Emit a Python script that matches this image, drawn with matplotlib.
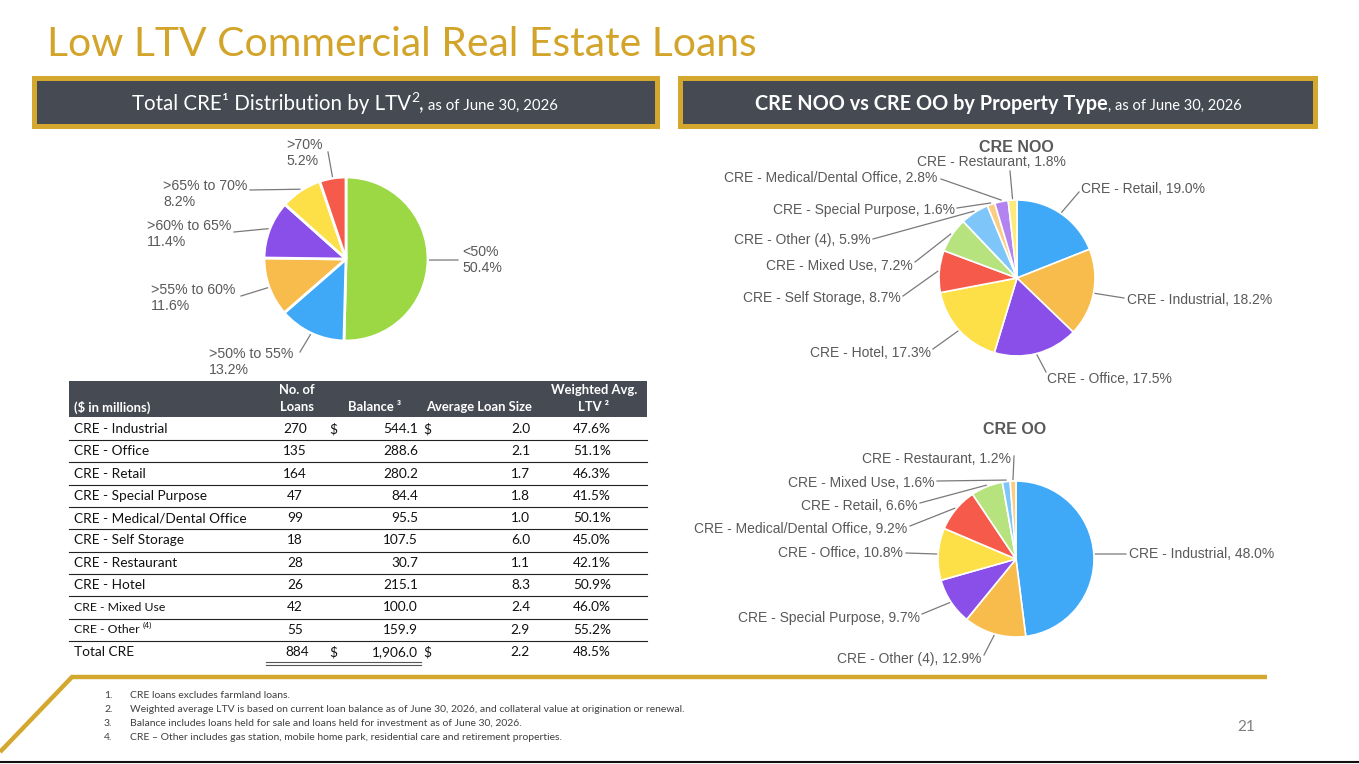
import matplotlib
matplotlib.use("Agg")
import matplotlib.pyplot as plt
from matplotlib.patches import Rectangle
import numpy as np

# ---------------- data ----------------
ltv_labels = ["<50%", ">50% to 55%", ">55% to 60%", ">60% to 65%", ">65% to 70%", ">70%"]
ltv_values = [50.4, 13.2, 11.6, 11.4, 8.2, 5.2]

noo_labels = ["CRE - Retail", "CRE - Industrial", "CRE - Office", "CRE - Hotel",
              "CRE - Self Storage", "CRE - Mixed Use", "CRE - Other (4)",
              "CRE - Special Purpose", "CRE - Medical/Dental Office", "CRE - Restaurant"]
noo_values = [19.0, 18.2, 17.5, 17.3, 8.7, 7.2, 5.9, 1.6, 2.8, 1.8]

oo_labels = ["CRE - Industrial", "CRE - Other (4)", "CRE - Special Purpose", "CRE - Office",
             "CRE - Medical/Dental Office", "CRE - Retail", "CRE - Mixed Use", "CRE - Restaurant"]
oo_values = [48.0, 12.9, 9.7, 10.8, 9.2, 6.6, 1.6, 1.2]

table_categories = ["CRE - Industrial", "CRE - Office", "CRE - Retail", "CRE - Special Purpose",
                    "CRE - Medical/Dental Office", "CRE - Self Storage", "CRE - Restaurant",
                    "CRE - Hotel", "CRE - Mixed Use", "CRE - Other"]
num_loans = [270, 135, 164, 47, 99, 18, 28, 26, 42, 55]
balances = [544.1, 288.6, 280.2, 84.4, 95.5, 107.5, 30.7, 215.1, 100.0, 159.9]
avg_loan_size = [2.0, 2.1, 1.7, 1.8, 1.0, 6.0, 1.1, 8.3, 2.4, 2.9]
wavg_ltv = [47.6, 51.1, 46.3, 41.5, 50.1, 45.0, 42.1, 50.9, 46.0, 55.2]
total_loans = 884
total_balance = 1906.0
total_avg_size = 2.2
total_ltv = 48.5

footnotes = [
    "CRE loans excludes farmland loans.",
    "Weighted average LTV is based on current loan balance as of June 30, 2026, and collateral value at origination or renewal.",
    "Balance includes loans held for sale and loans held for investment as of June 30, 2026.",
    "CRE \u2013 Other includes gas station, mobile home park, residential care and retirement properties.",
]

# ---------------- style ----------------
GOLD = "#D4A82F"
DARK = "#464A53"
LABEL = "#595959"
LEADER = "#7a7a7a"
SANS = "Liberation Sans"
BODY = "Lato"

ltv_colors = ["#9BD843", "#40A9F7", "#F8BC4C", "#8A4FE8", "#FDE048", "#F65A4B"]
noo_colors = ["#40A9F7", "#F8BC4C", "#8A4FE8", "#FDE048", "#F65A4B",
              "#B6E37E", "#7EC6F9", "#FACD82", "#B384F0", "#FEEA7A"]
oo_colors = ["#40A9F7", "#F8BC4C", "#8A4FE8", "#FDE048", "#F65A4B",
             "#B6E37E", "#7EC6F9", "#FACD82"]

W, H = 1359, 764
fig = plt.figure(figsize=(W / 100, H / 100), dpi=100)
fig.patch.set_facecolor("white")
bg = fig.add_axes([0, 0, 1, 1])
bg.set_xlim(0, W)
bg.set_ylim(H, 0)
bg.axis("off")
renderer = fig.canvas.get_renderer()


def fit_text(x, y, s, width, size0=20, **kw):
    t = bg.text(x, y, s, fontsize=size0, **kw)
    w = t.get_window_extent(renderer).width
    t.set_fontsize(size0 * width / w)
    return t


def draw_runs(x, y, runs, ha="center", color="white", family=BODY):
    texts, widths = [], []
    for (s, size, weight, dy) in runs:
        t = bg.text(0, 0, s, fontsize=size, fontweight=weight, color=color,
                    family=family, ha="left", va="baseline")
        texts.append(t)
        widths.append(t.get_window_extent(renderer).width)
    total = sum(widths)
    cur = x - total / 2 if ha == "center" else x
    for t, w, run in zip(texts, widths, runs):
        t.set_position((cur, y - run[3]))
        cur += w


# ---------------- title ----------------
fit_text(47, 45, "Low LTV Commercial Real Estate Loans", 710, color="#D3A42A",
         family=BODY, ha="left", va="center")

# ---------------- header boxes ----------------
for (x0, x1) in [(32, 660), (678, 1318)]:
    bg.add_patch(Rectangle((x0, 76), x1 - x0, 53, facecolor=GOLD, edgecolor="none"))
    bg.add_patch(Rectangle((x0 + 5, 81), x1 - x0 - 10, 43, facecolor=DARK, edgecolor="none"))

draw_runs(345, 110, [("Total CRE", 14.8, "normal", 0), ("\u00b9", 14.8, "normal", 0),
                     (" Distribution by LTV", 14.8, "normal", 0), ("2", 10, "normal", 8),
                     (",", 14.8, "normal", 0), (" as of June 30, 2026", 10.8, "normal", 0)])
draw_runs(998, 110, [("CRE NOO vs CRE OO by Property Type", 14.3, "bold", 0),
                     (", as of June 30, 2026", 10.5, "normal", 0)])


# ---------------- pies ----------------
def draw_pie(cx, cy, r, values, colors, texts, text_pos, has, ends, size=10,
             lw=1.2, linespacing=1.2):
    ax = fig.add_axes([(cx - r) / W, (H - cy - r) / H, 2 * r / W, 2 * r / H])
    wedges, _ = ax.pie(values, colors=colors, startangle=90, counterclock=False,
                       radius=1, wedgeprops=dict(edgecolor="white", linewidth=lw))
    ax.set_xlim(-1, 1)
    ax.set_ylim(-1, 1)
    ax.set_aspect("equal")
    ax.axis("off")
    for w, s, (px, py), ha, (ex, ey) in zip(wedges, texts, text_pos, has, ends):
        a = np.deg2rad((w.theta1 + w.theta2) / 2)
        x0, y0 = 1.02 * np.cos(a), 1.02 * np.sin(a)
        x1, y1 = (ex - cx) / r, (cy - ey) / r
        ax.plot([x0, x1], [y0, y1], color=LEADER, lw=0.9, clip_on=False)
        ax.text((px - cx) / r, (cy - py) / r, s, ha=ha, va="center", color=LABEL,
                fontsize=size, family=SANS, linespacing=linespacing, clip_on=False)
    return ax


# left pie
ltv_texts = [f"{l}\n{v:.1f}%" for l, v in zip(ltv_labels, ltv_values)]
draw_pie(346, 259, 82, ltv_values, ltv_colors, ltv_texts,
         [(462, 260), (209, 362), (151, 298), (147, 234), (163, 194), (286, 153)],
         ["left"] * 6,
         [(458, 260), (300, 352), (241, 296), (234, 232), (250, 190), (328, 152)],
         size=10.2, lw=2.0, linespacing=1.2)

# NOO pie
bg.text(1016, 147, "CRE NOO", ha="center", va="center", fontsize=11.5,
        fontweight="bold", color=LABEL, family=SANS)
noo_texts = [f"{l}, {v:.1f}%" for l, v in zip(noo_labels, noo_values)]
draw_pie(1017, 278, 78, noo_values, noo_colors, noo_texts,
         [(1081, 189), (1127, 300), (1047, 379), (931, 353), (901, 298), (913, 266),
          (871, 240), (955, 210), (937, 178), (991, 162)],
         ["left", "left", "left", "right", "right", "right", "right", "right", "right", "center"],
         [(1079, 192), (1124, 298), (1046, 372), (933, 349), (903, 296), (915, 262),
          (873, 239), (957, 208), (941, 179), (1010, 171)])

# OO pie
bg.text(1015, 429, "CRE OO", ha="center", va="center", fontsize=11.5,
        fontweight="bold", color=LABEL, family=SANS)
oo_texts = [f"{l}, {v:.1f}%" for l, v in zip(oo_labels, oo_values)]
draw_pie(1016, 559, 78, oo_values, oo_colors, oo_texts,
         [(1129, 554), (981, 659), (920, 618), (903, 553), (907, 529), (917, 506),
          (934, 483), (1011, 459)],
         ["left"] + ["right"] * 7,
         [(1126, 554), (984, 655), (922, 614), (906, 553), (910, 526), (920, 503),
          (937, 481), (1014, 456)])

# ---------------- table ----------------
TX0, TX1 = 69, 647
bg.add_patch(Rectangle((TX0, 381), TX1 - TX0, 36, facecolor=DARK, edgecolor="none"))
hkw = dict(color="white", fontsize=9.4, fontweight="bold", family=BODY, va="center")
bg.text(74, 407, "($ in millions)", ha="left", **hkw)
bg.text(297, 390, "No. of", ha="center", **hkw)
bg.text(297, 407, "Loans", ha="center", **hkw)
bg.text(375, 407, "Balance \u00b3", ha="center", **hkw)
bg.text(479, 407, "Average Loan Size", ha="center", **hkw)
bg.text(594, 390, "Weighted Avg.", ha="center", **hkw)
bg.text(594, 407, "LTV \u00b2", ha="center", **hkw)

row_y0, row_dy = 429, 22.3
tkw = dict(color="#111111", fontsize=9.8, family=BODY, va="center")
for i, cat in enumerate(table_categories):
    y = row_y0 + i * row_dy
    small = cat in ("CRE - Mixed Use", "CRE - Other")
    t = bg.text(74, y, cat, ha="left", **{**tkw, "fontsize": 8.8 if small else 9.8})
    if cat == "CRE - Other":
        wpx = t.get_window_extent(renderer).width
        bg.text(74 + wpx + 3, y - 4, "(4)", ha="left", color="#111111", fontsize=6,
                family=BODY, va="center")
    bg.text(295, y, f"{num_loans[i]}", ha="center", **tkw)
    bg.text(418, y, f"{balances[i]:,.1f}", ha="right", **tkw)
    bg.text(530, y, f"{avg_loan_size[i]:.1f}", ha="right", **tkw)
    bg.text(592, y, f"{wavg_ltv[i]:.1f}%", ha="center", **tkw)
    if i == 0:
        bg.text(333, y, "$", ha="center", **tkw)
        bg.text(427, y, "$", ha="center", **tkw)
    ly = y + row_dy / 2
    bg.plot([TX0, TX1], [ly, ly], color="#222222", lw=0.8)

yt = row_y0 + len(table_categories) * row_dy
bg.text(74, yt, "Total CRE", ha="left", **tkw)
bg.text(297, yt, f"{total_loans}", ha="center", **tkw)
bg.text(333, yt, "$", ha="center", **tkw)
bg.text(418, yt, f"{total_balance:,.1f}", ha="right", **tkw)
bg.text(427, yt, "$", ha="center", **tkw)
bg.text(530, yt, f"{total_avg_size:.1f}", ha="right", **tkw)
bg.text(592, yt, f"{total_ltv:.1f}%", ha="center", **tkw)
for dy in (9.5, 12.5):
    bg.plot([266, 421], [yt + dy, yt + dy], color="#555555", lw=0.8)

# ---------------- footer ----------------
bg.plot([0, 72, 1267], [752, 677, 677], color=GOLD, lw=3.2, solid_capstyle="butt",
        solid_joinstyle="miter")
bg.plot([0, W], [762, 762], color="#111111", lw=1.5)

for i, fn in enumerate(footnotes):
    y = 696 + i * 13.7
    bg.text(104, y, f"{i + 1}.", ha="left", va="center", fontsize=7.5, color="#404040",
            family=BODY)
    bg.text(130, y, fn, ha="left", va="center", fontsize=7.5, color="#404040", family=BODY)

bg.text(1255, 727, "21", ha="right", va="center", fontsize=11, color="#7F7F7F", family=BODY)

fig.savefig("out.png", dpi=100, facecolor="white")
